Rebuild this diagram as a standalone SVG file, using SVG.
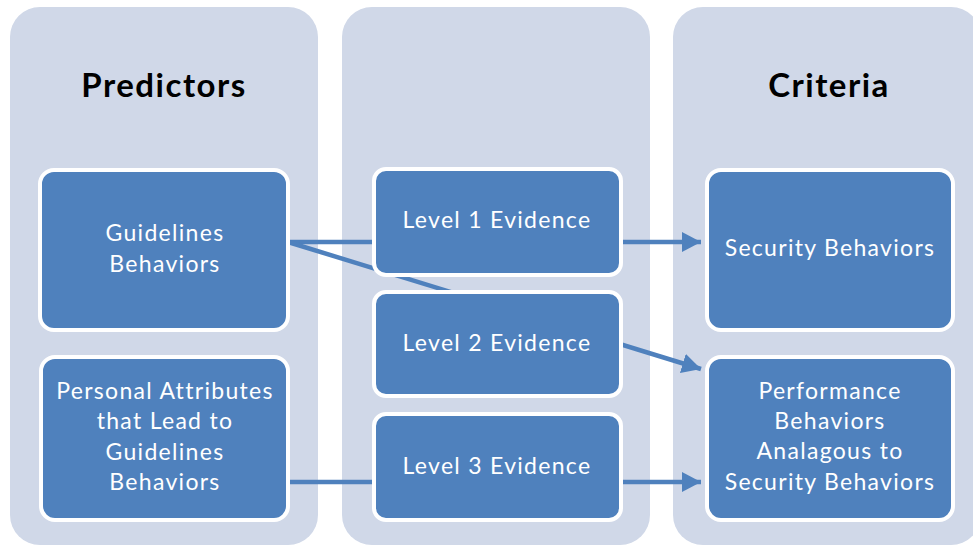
<svg xmlns="http://www.w3.org/2000/svg" width="973" height="548" viewBox="0 0 973 548">
<defs>
<style>
.col{fill:#D0D8E8;}
.node{fill:#4F81BD;stroke:#FFFFFF;stroke-width:4;}
.lbl{font-family:Lato,"Liberation Sans",sans-serif;font-size:23px;letter-spacing:1.3px;fill:#FFFFFF;text-anchor:middle;}
.hdr{font-family:Lato,"Liberation Sans",sans-serif;font-size:33px;letter-spacing:1.5px;font-weight:bold;fill:#000000;text-anchor:middle;}
.conn{stroke:#4F81BD;stroke-width:4.5;fill:none;marker-end:url(#arr);}
</style>
<marker id="arr" markerUnits="userSpaceOnUse" viewBox="0 0 19 20" refX="19" refY="10" markerWidth="19" markerHeight="20" orient="auto">
<path d="M0,0 L19,10 L0,20 Z" fill="#4F81BD"/>
</marker>
</defs>
<rect width="973" height="548" fill="#FFFFFF"/>
<g id="columns">
<rect class="col" x="10" y="7" width="308" height="538" rx="30"/>
<rect class="col" x="342" y="7" width="308" height="538" rx="30"/>
<rect class="col" x="673" y="7" width="308" height="538" rx="30"/>
<text class="hdr" x="164" y="97">Predictors</text>
<text class="hdr" x="829" y="97">Criteria</text>
</g>
<g id="connectors">
<line class="conn" x1="288" y1="242" x2="701" y2="242"/>
<line class="conn" x1="288" y1="242" x2="701" y2="369"/>
<line class="conn" x1="288" y1="482" x2="701" y2="482"/>
</g>
<g id="guidelines">
<rect class="node" x="40" y="170" width="248" height="160" rx="14"/>
<text class="lbl" x="165" y="241">Guidelines</text>
<text class="lbl" x="165" y="272">Behaviors</text>
</g>
<g id="personal">
<rect class="node" x="41" y="357" width="247" height="163" rx="14"/>
<text class="lbl" x="165" y="399">Personal Attributes</text>
<text class="lbl" x="165" y="429">that Lead to</text>
<text class="lbl" x="165" y="460">Guidelines</text>
<text class="lbl" x="165" y="490">Behaviors</text>
</g>
<g id="level1">
<rect class="node" x="374" y="169" width="247" height="106" rx="12"/>
<text class="lbl" x="497" y="228">Level 1 Evidence</text>
</g>
<g id="level2">
<rect class="node" x="374" y="292" width="247" height="104" rx="12"/>
<text class="lbl" x="497" y="351">Level 2 Evidence</text>
</g>
<g id="level3">
<rect class="node" x="374" y="414" width="247" height="106" rx="12"/>
<text class="lbl" x="497" y="474">Level 3 Evidence</text>
</g>
<g id="security">
<rect class="node" x="707" y="170" width="246" height="160" rx="14"/>
<text class="lbl" x="830" y="256">Security Behaviors</text>
</g>
<g id="performance">
<rect class="node" x="707" y="357" width="246" height="163" rx="14"/>
<text class="lbl" x="830" y="399">Performance</text>
<text class="lbl" x="830" y="429">Behaviors</text>
<text class="lbl" x="830" y="459">Analagous to</text>
<text class="lbl" x="830" y="490">Security Behaviors</text>
</g>
</svg>
